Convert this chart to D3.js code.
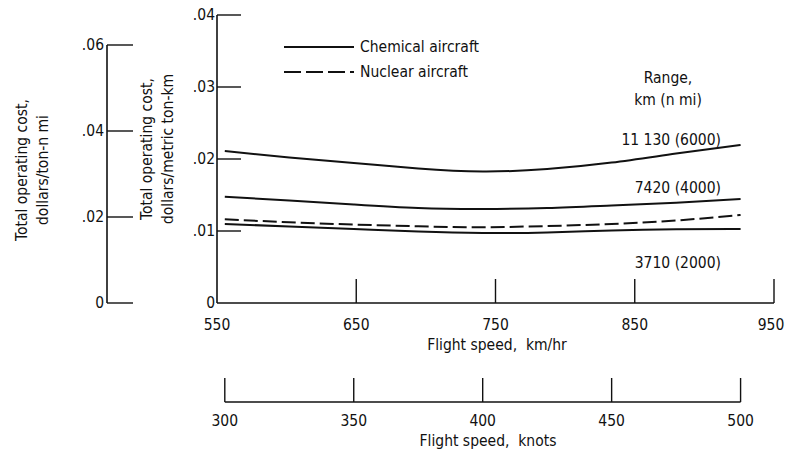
<!DOCTYPE html>
<html>
<head>
<meta charset="utf-8">
<script src="https://cdn.jsdelivr.net/npm/d3@7"></script>
<style>
  html, body { margin: 0; padding: 0; background: #fff; }
  svg text { font-family: "Liberation Sans Narrow", "DejaVu Sans Condensed", "DejaVu Sans", sans-serif; font-stretch: condensed; fill: #111; }
</style>
</head>
<body>
<svg id="chart" width="786" height="454"></svg>
<script>
// ---- data ----
const speedKnots = [300, 325, 350, 375, 400, 425, 450, 475, 500];
const chem11130 = [0.0211, 0.0202, 0.01944, 0.01868, 0.01826, 0.01860, 0.01950, 0.02075, 0.02194];
const chem7420  = [0.01476, 0.01424, 0.01368, 0.01319, 0.01306, 0.01319, 0.01354, 0.01393, 0.01444];
const nuclear   = [0.01163, 0.01121, 0.0109, 0.01065, 0.01053, 0.01069, 0.01097, 0.01146, 0.01222];
const chem3710  = [0.01097, 0.01063, 0.01028, 0.00993, 0.00972, 0.00979, 0.01007, 0.01024, 0.01028];
const kmhTicks = [550, 650, 750, 850, 950];
const knotTicks = [300, 350, 400, 450, 500];
const metricTicks = [0, 0.01, 0.02, 0.03, 0.04];
const metricTickLabels = ["0", ".01", ".02", ".03", ".04"];
const nmiTicks = [0, 0.02, 0.04, 0.06];
const nmiTickLabels = ["0", ".02", ".04", ".06"];
const rangeLabels = ["11 130 (6000)", "7420 (4000)", "3710 (2000)"];
const legendNames = ["Chemical aircraft", "Nuclear aircraft"];

const KNOT_TO_KMH = 1.852;

const svg = d3.select("#chart");
const FS = 15.5;

// ---- scales ----
const x = d3.scaleLinear().domain([550, 950]).range([217, 774]);
const xKnots = d3.scaleLinear().domain([550 / KNOT_TO_KMH, 950 / KNOT_TO_KMH]).range([217, 774]);
const y = d3.scaleLinear().domain([0, 0.04]).range([303, 15]);
const yNmi = d3.scaleLinear().domain([0, 0.06]).range([303, 45]);

const ink = "#111";

// ---- main y axis (dollars/metric ton-km) ----
const gY = svg.append("g");
gY.append("line").attr("x1", x(550)).attr("x2", x(550)).attr("y1", y(0.04)).attr("y2", y(0))
  .attr("stroke", ink).attr("stroke-width", 1.6);
gY.selectAll("line.tk").data(metricTicks.filter(d => d > 0)).join("line")
  .attr("class", "tk")
  .attr("x1", x(550)).attr("x2", x(550) + 24)
  .attr("y1", d => y(d)).attr("y2", d => y(d))
  .attr("stroke", ink).attr("stroke-width", 1.4);
gY.selectAll("text").data(metricTicks).join("text")
  .attr("x", x(550) - 2).attr("y", d => y(d))
  .attr("text-anchor", "end").attr("dominant-baseline", "central")
  .attr("font-size", FS)
  .text((d, i) => metricTickLabels[i]);

// ---- left y axis (dollars/ton-n mi) ----
const axL = 107;
const gL = svg.append("g");
gL.append("line").attr("x1", axL).attr("x2", axL).attr("y1", yNmi(0.06)).attr("y2", yNmi(0))
  .attr("stroke", ink).attr("stroke-width", 1.6);
gL.selectAll("line.tk").data(nmiTicks).join("line")
  .attr("class", "tk")
  .attr("x1", axL).attr("x2", axL + 26)
  .attr("y1", d => yNmi(d)).attr("y2", d => yNmi(d))
  .attr("stroke", ink).attr("stroke-width", 1.4);
gL.selectAll("text").data(nmiTicks).join("text")
  .attr("x", axL - 3).attr("y", d => yNmi(d))
  .attr("text-anchor", "end").attr("dominant-baseline", "central")
  .attr("font-size", FS)
  .text((d, i) => nmiTickLabels[i]);

// axis titles (rotated)
function vTitle(lines, cx, cy, gap) {
  const g = svg.append("g").attr("transform", `translate(${cx},${cy}) rotate(-90)`);
  lines.forEach((t, i) => {
    g.append("text").attr("x", 0).attr("y", i * gap)
      .attr("text-anchor", "middle").attr("dominant-baseline", "central")
      .attr("font-size", FS).text(t);
  });
}
vTitle(["Total operating cost,", "dollars/ton-n mi"], 22, 170, 21);
vTitle(["Total operating cost,", "dollars/metric ton-km"], 147, 149, 21);

// ---- km/hr x axis ----
const gX = svg.append("g");
gX.append("line").attr("x1", x(550)).attr("x2", x(950)).attr("y1", y(0)).attr("y2", y(0))
  .attr("stroke", ink).attr("stroke-width", 1.6);
gX.selectAll("line.tk").data(kmhTicks.filter(d => d > 550)).join("line")
  .attr("class", "tk")
  .attr("x1", d => x(d)).attr("x2", d => x(d))
  .attr("y1", y(0)).attr("y2", y(0) - 24)
  .attr("stroke", ink).attr("stroke-width", 1.4);
gX.selectAll("text").data(kmhTicks).join("text")
  .attr("x", d => Math.min(x(d), 771)).attr("y", 325)
  .attr("text-anchor", "middle").attr("dominant-baseline", "central")
  .attr("font-size", FS).text(d => d);
svg.append("text").attr("x", 497).attr("y", 345)
  .attr("text-anchor", "middle").attr("dominant-baseline", "central")
  .attr("font-size", FS).attr("xml:space", "preserve").text("Flight speed,  km/hr");

// ---- knots x axis ----
const kBase = 402;
const gK = svg.append("g");
gK.append("line").attr("x1", xKnots(300)).attr("x2", xKnots(500)).attr("y1", kBase).attr("y2", kBase)
  .attr("stroke", ink).attr("stroke-width", 1.6);
gK.selectAll("line.tk").data(knotTicks).join("line")
  .attr("class", "tk")
  .attr("x1", d => xKnots(d)).attr("x2", d => xKnots(d))
  .attr("y1", kBase).attr("y2", kBase - 24)
  .attr("stroke", ink).attr("stroke-width", 1.4);
gK.selectAll("text").data(knotTicks).join("text")
  .attr("x", d => xKnots(d)).attr("y", 421)
  .attr("text-anchor", "middle").attr("dominant-baseline", "central")
  .attr("font-size", FS).text(d => d);
svg.append("text").attr("x", 488).attr("y", 441)
  .attr("text-anchor", "middle").attr("dominant-baseline", "central")
  .attr("font-size", FS).attr("xml:space", "preserve").text("Flight speed,  knots");

// ---- curves ----
const line = d3.line()
  .x(d => xKnots(d[0]))
  .y(d => y(d[1]))
  .curve(d3.curveNatural);

const series = [
  { vals: chem11130, dash: null },
  { vals: chem7420, dash: null },
  { vals: nuclear, dash: "14,5" },
  { vals: chem3710, dash: null }
];
svg.append("g").selectAll("path").data(series).join("path")
  .attr("d", s => line(speedKnots.map((k, i) => [k, s.vals[i]])))
  .attr("fill", "none").attr("stroke", ink).attr("stroke-width", 2)
  .attr("stroke-dasharray", s => s.dash);

// ---- range labels ----
svg.append("text").attr("x", 668).attr("y", 78).attr("text-anchor", "middle")
  .attr("dominant-baseline", "central").attr("font-size", FS).text("Range,");
svg.append("text").attr("x", 668).attr("y", 100).attr("text-anchor", "middle")
  .attr("dominant-baseline", "central").attr("font-size", FS).text("km (n mi)");
const labelY = [140, 188, 263];
svg.append("g").selectAll("text").data(rangeLabels).join("text")
  .attr("x", 721).attr("y", (d, i) => labelY[i])
  .attr("text-anchor", "end").attr("dominant-baseline", "central")
  .attr("font-size", FS).text(d => d);

// ---- legend ----
const legY = [47, 72];
const leg = svg.append("g");
leg.selectAll("line").data(legendNames).join("line")
  .attr("x1", 284).attr("x2", 354)
  .attr("y1", (d, i) => legY[i]).attr("y2", (d, i) => legY[i])
  .attr("stroke", ink).attr("stroke-width", 2)
  .attr("stroke-dasharray", (d, i) => i === 1 ? "17,5" : null);
leg.selectAll("text").data(legendNames).join("text")
  .attr("x", 360).attr("y", (d, i) => legY[i])
  .attr("dominant-baseline", "central").attr("font-size", FS).text(d => d);
</script>
</body>
</html>
